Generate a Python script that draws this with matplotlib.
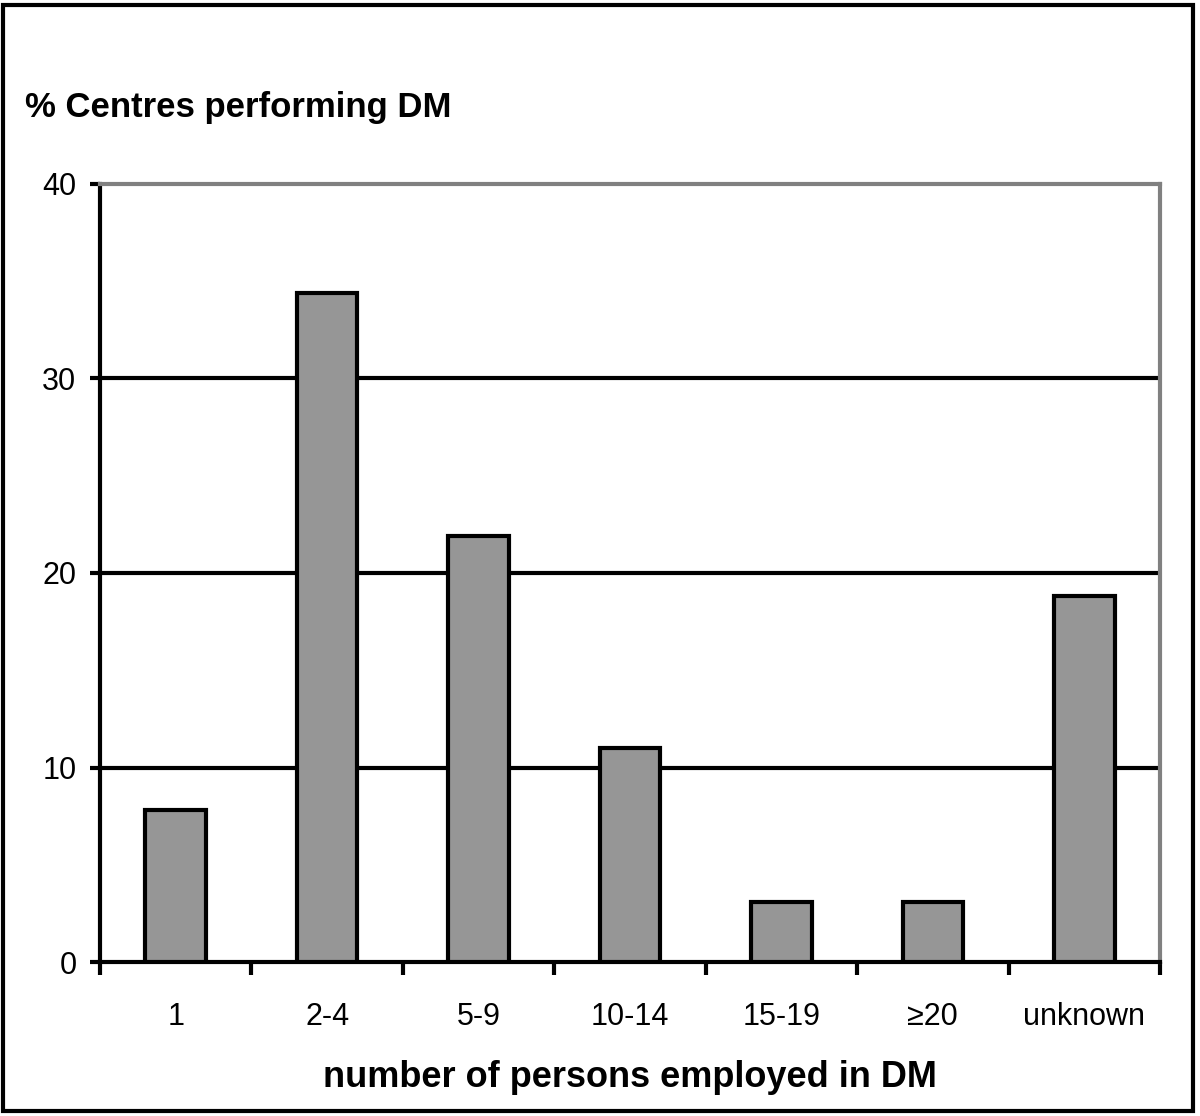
import matplotlib.pyplot as plt
import numpy as np
from matplotlib.patches import Rectangle

plt.rcParams['font.family'] = ['Liberation Sans', 'DejaVu Sans']

categories = ["1", "2-4", "5-9", "10-14", "15-19", "≥20", "unknown"]
percent = [7.8, 34.4, 21.9, 11.0, 3.1, 3.1, 18.8]

fig = plt.figure(figsize=(12, 11.16), dpi=100)
ax = fig.add_axes([100 / 1200, 1 - 962 / 1116, 1060 / 1200, 778 / 1116])

x = np.arange(len(categories))
ax.bar(x, percent, width=0.4, color="#969696", edgecolor="black", linewidth=3, zorder=3)

ax.set_xlim(-0.5, len(categories) - 0.5)
ax.set_ylim(0, 40)
ax.set_yticks([0, 10, 20, 30, 40])
ax.tick_params(axis="y", labelsize=22, length=7, width=3, direction="out", pad=10)
ax.set_xticks(x)
ax.set_xticklabels(categories)
ax.set_xticks(np.arange(len(categories) + 1) - 0.5, minor=True)
ax.tick_params(axis="x", which="major", length=0, labelsize=22, pad=29)
ax.tick_params(axis="x", which="minor", length=9, width=3, direction="out")

for yv in [10, 20, 30]:
    ax.axhline(yv, color="black", linewidth=3, zorder=1)

ax.spines["left"].set_linewidth(3)
ax.spines["bottom"].set_linewidth(3)
ax.spines["top"].set_color("#808080")
ax.spines["top"].set_linewidth(3)
ax.spines["right"].set_color("#808080")
ax.spines["right"].set_linewidth(3)

ax.set_xlabel("number of persons employed in DM", fontsize=26, fontweight="bold", labelpad=20)
fig.text(25 / 1200, 1 - 107 / 1116, "% Centres performing DM", fontsize=25,
         fontweight="bold", va="center", ha="left")

fig.patches.append(Rectangle((3 / 1200, 5 / 1116), 1190 / 1200, 1106 / 1116,
                             transform=fig.transFigure, fill=False,
                             edgecolor="black", linewidth=3))

fig.savefig("out.png", dpi=100)
